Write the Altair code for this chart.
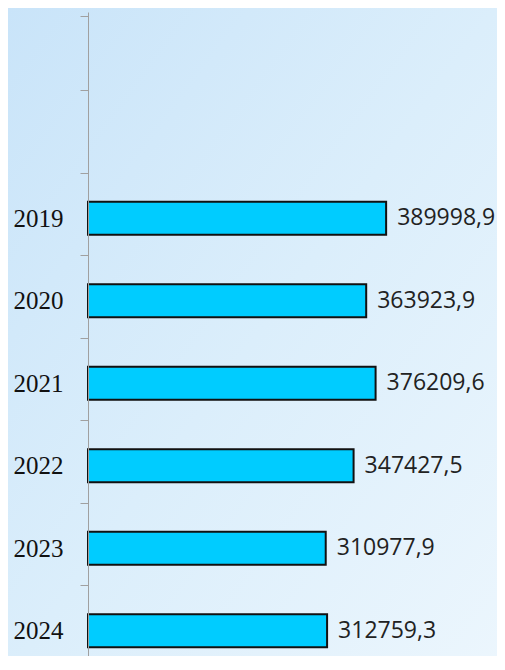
import altair as alt
import pandas as pd

years = ["2019", "2020", "2021", "2022", "2023", "2024"]
values = [389998.9, 363923.9, 376209.6, 347427.5, 310977.9, 312759.3]
labels = [f"{v:.1f}".replace(".", ",") for v in values]
domain = ["", " "] + years

df = pd.DataFrame({"year": years, "value": values, "label": labels})

W, H = 344, 644
RIGHT = 65

bg = alt.Chart(pd.DataFrame({"a": [0]})).mark_rect(
    color=alt.LinearGradient(
        gradient="linear",
        stops=[alt.GradientStop(color="#c9e4f9", offset=0),
               alt.GradientStop(color="#dbeefb", offset=0.5),
               alt.GradientStop(color="#ecf6fd", offset=1)],
        x1=0, y1=0, x2=1, y2=1),
).encode(x=alt.value(-80), x2=alt.value(W + RIGHT), y=alt.value(-4), y2=alt.value(H + 20))

y = alt.Y("year:N", scale=alt.Scale(domain=domain, range=[0, 660]),
          axis=alt.Axis(title=None, tickBand="extent", tickSize=8, tickColor="#a0a0a0",
                        domainColor="#a0a0a0", labelFont="Liberation Serif",
                        labelFontSize=25, labelColor="#111111", labelPadding=17,
                        zindex=1))
x = alt.X("value:Q", scale=alt.Scale(domain=[0, 450000], nice=False), axis=None)

bars = alt.Chart(df).mark_bar(size=33, color="#00ccff", stroke="#111111", strokeWidth=2).encode(x=x, y=y)
text = alt.Chart(df).mark_text(align="left", baseline="middle", dx=11, font="Open Sans",
                               fontSize=23, color="#222222").encode(x=x, y=y, text="label:N")

chart = alt.layer(bg, bars, text).properties(
    width=W, height=H, autosize="none",
    padding={"left": 80, "top": 4, "right": RIGHT, "bottom": 0},
    background="#d8ecfa",
).configure_view(stroke=None)

chart.save("out.html", embed_options={"renderer": "svg", "actions": False})
